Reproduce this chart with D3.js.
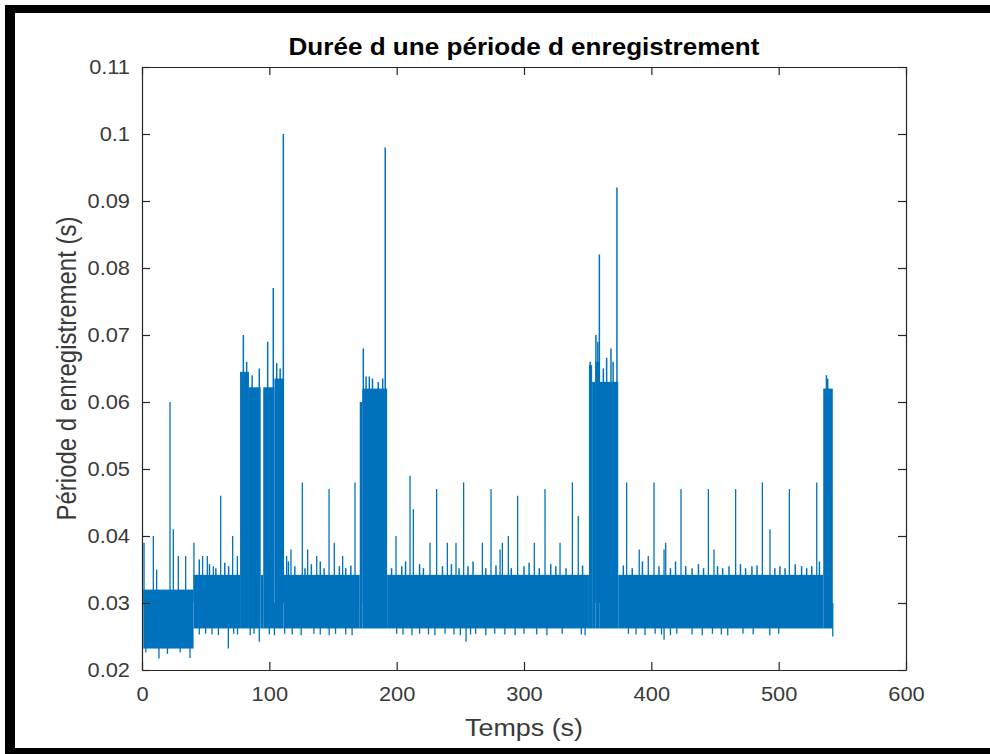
<!DOCTYPE html>
<html>
<head>
<meta charset="utf-8">
<script src="https://cdn.jsdelivr.net/npm/d3@7"></script>
<style>
  body { margin: 0; background: #fff; }
  svg { display: block; }
  text { font-family: "Liberation Sans", Arial, sans-serif; }
</style>
</head>
<body>
<svg id="chart" width="990" height="754"></svg>
<script>
// axis ticks
const xTicks = [0, 100, 200, 300, 400, 500, 600];
const xTickLabels = ["0", "100", "200", "300", "400", "500", "600"];
const yTicks = [0.02, 0.03, 0.04, 0.05, 0.06, 0.07, 0.08, 0.09, 0.1, 0.11];
const yTickLabels = ["0.02", "0.03", "0.04", "0.05", "0.06", "0.07", "0.08", "0.09", "0.1", "0.11"];

// dense band of the signal, read as segments (time in s, period in s)
const bandStart = [1.0, 40.5, 77.0, 84.0, 93.2, 95.2, 104.0, 111.2, 171.0, 173.0, 192.5, 351.0, 353.5, 356.0, 359.5, 374.0, 535.0];
const bandEnd   = [40.5, 77.0, 84.0, 93.2, 95.2, 104.0, 111.2, 171.0, 173.0, 192.5, 351.0, 353.5, 356.0, 359.5, 374.0, 535.0, 542.5];
const bandLow   = [0.0232, 0.0262, 0.0262, 0.0262, 0.0262, 0.0262, 0.0262, 0.0262, 0.0262, 0.0262, 0.0262, 0.0262, 0.0262, 0.0262, 0.0262, 0.0262, 0.0262];
const bandHigh  = [0.0320, 0.0342, 0.0645, 0.0622, 0.0342, 0.0622, 0.0635, 0.0342, 0.0600, 0.0620, 0.0342, 0.0655, 0.0630, 0.0660, 0.0630, 0.0342, 0.0620];

// isolated peaks
const spikeTime = [1.6, 8.9, 11.5, 22.0, 24.6, 28.5, 34.3, 40.8, 47.6, 51.3, 56.0, 61.8, 71.2, 74.9,
  113.6, 117.0, 125.9, 130.1, 137.2, 146.9, 151.0, 157.6, 167.3,
  199.5, 210.5, 213.1, 226.2, 231.4, 239.8, 246.6, 252.6, 267.3, 274.1, 281.2, 283.0, 287.7, 295.0,
  308.1, 316.5, 328.3, 338.0, 342.6, 380.6, 390.5, 397.6, 402.1, 410.0, 411.3, 423.3,
  444.8, 449.2, 466.2, 487.2, 493.2, 508.4, 529.9];
const spikeValue = [0.039, 0.040, 0.035, 0.060, 0.041, 0.037, 0.037, 0.039, 0.037, 0.037, 0.0355, 0.046, 0.040, 0.037,
  0.037, 0.038, 0.048, 0.038, 0.037, 0.047, 0.039, 0.037, 0.048,
  0.040, 0.049, 0.044, 0.039, 0.047, 0.039, 0.039, 0.048, 0.039, 0.047, 0.038, 0.039, 0.040, 0.046,
  0.039, 0.047, 0.039, 0.048, 0.043, 0.048, 0.038, 0.037, 0.048, 0.038, 0.039, 0.047,
  0.047, 0.038, 0.047, 0.048, 0.041, 0.047, 0.048];

// peaks on top of the bursts
const crestTime  = [79.6, 82.2, 86.5, 92.1, 98.7, 103.1, 105.8, 108.5, 111.0,
  173.8, 176.0, 178.5, 181.0, 185.5, 189.0, 191.0,
  352.0, 356.5, 358.0, 359.2, 362.3, 364.9, 368.3, 370.0, 373.0,
  537.5, 538.5];
const crestValue = [0.070, 0.066, 0.064, 0.065, 0.069, 0.077, 0.0658, 0.065, 0.100,
  0.068, 0.0638, 0.0638, 0.0635, 0.0630, 0.0635, 0.098,
  0.066, 0.070, 0.069, 0.082, 0.065, 0.0666, 0.068, 0.066, 0.092,
  0.064, 0.0635];

// small bumps on the upper edge of the band
const bumpTime  = [45, 53, 58, 65, 68, 115, 120, 128, 133, 140, 143, 155, 160, 164,
  196, 204, 207, 218, 221, 236, 243, 249, 256, 260, 270, 278, 290, 300, 304, 312, 321, 325, 333, 346,
  378, 385, 393, 406, 415, 419, 427, 432, 437, 441, 452, 456, 461, 470, 474, 479, 483, 497, 501, 505, 513, 518, 522, 526, 532];
const bumpValue = [0.0365, 0.0358, 0.0352, 0.036, 0.0355, 0.0362, 0.0355, 0.0352, 0.0358, 0.0362, 0.0352, 0.0355, 0.0352, 0.0356,
  0.0352, 0.0355, 0.0362, 0.0358, 0.0352, 0.0355, 0.0358, 0.0352, 0.0355, 0.0362, 0.0352, 0.0356, 0.0352, 0.0355, 0.036, 0.0352, 0.0358, 0.0355, 0.0352, 0.0356,
  0.0356, 0.0352, 0.0362, 0.0355, 0.0352, 0.0362, 0.0355, 0.0352, 0.0358, 0.0352, 0.0355, 0.0352, 0.0355, 0.0358, 0.0352, 0.0355, 0.0356, 0.0352, 0.0355, 0.0352, 0.0358, 0.0355, 0.0352, 0.0355, 0.0362];

// dips below the band
const dipTime  = [3, 13.3, 20, 30, 37.7, 45, 50, 55, 60, 67.8, 72, 75, 85, 88, 92.1, 100, 104,
  112, 118, 125, 135, 140, 147, 152, 160, 165, 200, 205, 212, 218, 225, 230, 238, 245, 250, 254.5, 258, 262,
  270, 277, 285, 293, 300, 310, 318, 330, 345, 348, 382, 388, 395, 403, 408, 410, 415, 420, 432, 440, 448,
  455, 460, 472, 480, 493, 500, 542.5];
const dipValue = [0.0226, 0.0217, 0.0224, 0.0226, 0.0218, 0.0253, 0.0254, 0.0253, 0.0252, 0.0232, 0.0254, 0.0253, 0.0252, 0.0254, 0.0242, 0.0253, 0.0252,
  0.0254, 0.0253, 0.0252, 0.0254, 0.0253, 0.0252, 0.0254, 0.0253, 0.0252, 0.0254, 0.0253, 0.0252, 0.0254, 0.0253, 0.0252, 0.0254, 0.0253, 0.0252, 0.0242, 0.0253, 0.0254,
  0.0252, 0.0254, 0.0253, 0.0252, 0.0254, 0.0253, 0.0252, 0.0254, 0.0253, 0.0252, 0.0254, 0.0253, 0.0252, 0.0254, 0.0253, 0.0245, 0.0252, 0.0254, 0.0253, 0.0252, 0.0254,
  0.0253, 0.0252, 0.0254, 0.0253, 0.0252, 0.0254, 0.0250];

const lineColor = "#0072BD";
const axisColor = "#262626";
const labelColor = "#3a3a3a";
const stretch = 1.12; // the picture is slightly wider than tall

const svg = d3.select("#chart");

// black frame around the figure
svg.append("rect").attr("x", 5).attr("y", 5).attr("width", 985).attr("height", 8).attr("fill", "#000");
svg.append("rect").attr("x", 5).attr("y", 5).attr("width", 10).attr("height", 749).attr("fill", "#000");
svg.append("rect").attr("x", 5).attr("y", 748).attr("width", 985).attr("height", 6).attr("fill", "#000");

const x = d3.scaleLinear().domain([0, 600]).range([142, 906]);
const y = d3.scaleLinear().domain([0.02, 0.11]).range([670, 67]);

svg.append("clipPath").attr("id", "clip")
  .append("rect").attr("x", 142).attr("y", 67).attr("width", 764).attr("height", 603);

const plot = svg.append("g").attr("clip-path", "url(#clip)");

plot.selectAll(".band")
  .data(bandStart)
  .enter()
  .append("rect")
  .attr("x", (d, i) => x(d))
  .attr("width", (d, i) => x(bandEnd[i]) - x(d))
  .attr("y", (d, i) => y(bandHigh[i]))
  .attr("height", (d, i) => y(bandLow[i]) - y(bandHigh[i]))
  .attr("fill", lineColor);

function drawStems(times, values, width) {
  plot.selectAll(null)
    .data(times)
    .enter()
    .append("line")
    .attr("x1", d => x(d))
    .attr("x2", d => x(d))
    .attr("y1", y(0.030))
    .attr("y2", (d, i) => y(values[i]))
    .attr("stroke", lineColor)
    .attr("stroke-width", width);
}

drawStems(bumpTime, bumpValue, 1.5);
drawStems(dipTime, dipValue, 1.3);
drawStems(spikeTime, spikeValue, 1.3);
drawStems(crestTime, crestValue, 1.5);

// axes, ticks pointing inward on all four sides
const axBottom = svg.append("g")
  .attr("transform", "translate(0,670)")
  .call(d3.axisBottom(x).tickValues(xTicks).tickFormat((d, i) => xTickLabels[i])
    .tickSizeInner(-8).tickSizeOuter(0).tickPadding(17));
const axLeft = svg.append("g")
  .attr("transform", "translate(142,0)")
  .call(d3.axisLeft(y).tickValues(yTicks).tickFormat((d, i) => yTickLabels[i])
    .tickSizeInner(-8).tickSizeOuter(0).tickPadding(10.7));
const axTop = svg.append("g")
  .attr("transform", "translate(0,67)")
  .call(d3.axisTop(x).tickValues(xTicks).tickFormat("").tickSizeInner(-8).tickSizeOuter(0));
const axRight = svg.append("g")
  .attr("transform", "translate(906,0)")
  .call(d3.axisRight(y).tickValues(yTicks).tickFormat("").tickSizeInner(-8).tickSizeOuter(0));

[axBottom, axLeft, axTop, axRight].forEach(g => {
  g.selectAll("path, line").attr("stroke", axisColor).attr("stroke-width", 1.2);
  g.selectAll("text")
    .attr("fill", labelColor)
    .style("font-size", "19.5px")
    .attr("transform", "scale(" + stretch + ",1)");
});
axLeft.selectAll("text").attr("x", -12 / stretch);

// title and labels
svg.append("text")
  .attr("transform", "translate(524,55) scale(" + stretch + ",1)")
  .attr("text-anchor", "middle")
  .style("font-size", "23.3px")
  .style("font-weight", "bold")
  .attr("fill", "#000")
  .text("Durée d une période d enregistrement");

svg.append("text")
  .attr("transform", "translate(524,736) scale(" + stretch + ",1)")
  .attr("text-anchor", "middle")
  .style("font-size", "24px")
  .attr("fill", labelColor)
  .text("Temps (s)");

svg.append("text")
  .attr("transform", "translate(76,368.5) scale(" + stretch + ",1) rotate(-90)")
  .attr("text-anchor", "middle")
  .style("font-size", "24px")
  .attr("fill", labelColor)
  .text("Période d enregistrement (s)");
</script>
</body>
</html>
